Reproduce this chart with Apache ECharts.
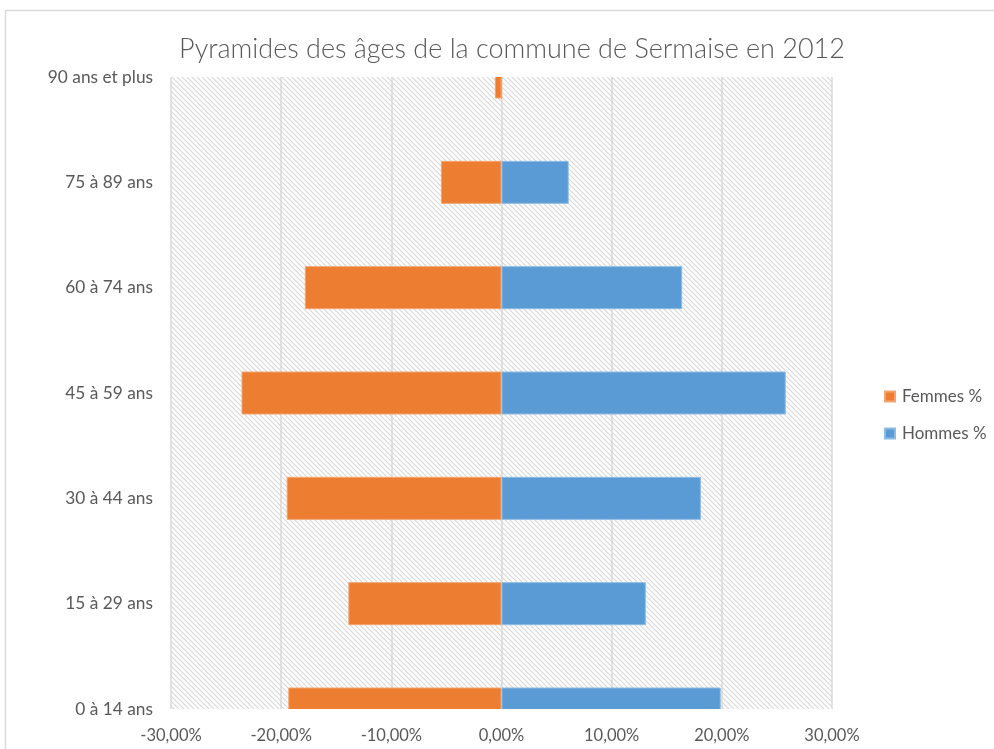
<!DOCTYPE html>
<html>
<head>
<meta charset="utf-8">
<script src="https://cdn.jsdelivr.net/npm/echarts@6/dist/echarts.min.js"></script>
<style>
  body { margin: 0; background: #fff; }
  #bar { width: 994px; height: 749px; }
</style>
</head>
<body>
<div id="bar"></div>
<script>
var categories = ['0 à 14 ans', '15 à 29 ans', '30 à 44 ans', '45 à 59 ans', '60 à 74 ans', '75 à 89 ans', '90 ans et plus'];
var femmes = [-19.35, -13.9, -19.5, -23.6, -17.85, -5.5, -0.6];
var hommes = [19.9, 13.1, 18.1, 25.8, 16.4, 6.1, 0];
var xTicks = [-30, -20, -10, 0, 10, 20, 30];

// hachures du fond
function hatch() {
    var s = 5;
    var c = document.createElement('canvas');
    c.width = s;
    c.height = s;
    var ctx = c.getContext('2d');
    ctx.fillStyle = '#ffffff';
    ctx.fillRect(0, 0, s, s);
    ctx.strokeStyle = '#d6d6d6';
    ctx.lineWidth = 1.1;
    ctx.beginPath();
    ctx.moveTo(-1, -1); ctx.lineTo(s + 1, s + 1);
    ctx.moveTo(-s - 1, -1); ctx.lineTo(1, s + 1);
    ctx.moveTo(s - 1, -1); ctx.lineTo(2 * s + 1, s + 1);
    ctx.stroke();
    return c;
}

function pct(v) {
    return v.toFixed(2).replace('.', ',') + '%';
}

var chart = echarts.init(document.getElementById('bar'), null, {renderer: 'canvas'});
var font = 'Lato, "Noto Sans", sans-serif';
var gLeft = 171, gRight = 162, gTop = 77, gBottom = 40;

chart.setOption({
    animation: false,
    textStyle: {fontFamily: font},
    title: {
        text: 'Pyramides des âges de la commune de Sermaise en 2012',
        left: 507,
        textAlign: 'center',
        top: 31,
        z: 12,
        textStyle: {fontFamily: font, fontSize: 27, fontWeight: 300, color: '#595959'}
    },
    graphic: [{
        type: 'rect',
        shape: {x: 5.5, y: 10.5, width: 1000, height: 800},
        style: {fill: null, stroke: '#d9d9d9', lineWidth: 1.5},
        silent: true
    }, {
        // masque les demi-barres qui dépassent la zone du graphique
        type: 'rect',
        z: 5,
        shape: {x: gLeft - 2, y: gTop - 30, width: 994 - gLeft - gRight + 4, height: 30},
        style: {fill: '#fff'},
        silent: true
    }, {
        type: 'rect',
        z: 5,
        shape: {x: gLeft - 2, y: 749 - gBottom, width: 994 - gLeft - gRight + 4, height: 30},
        style: {fill: '#fff'},
        silent: true
    }],
    legend: {
        orient: 'vertical',
        left: 879,
        top: 383,
        itemWidth: 10,
        itemHeight: 10,
        itemGap: 20,
        icon: 'rect',
        z: 12,
        data: ['Femmes %', 'Hommes %'],
        textStyle: {fontSize: 17, color: '#595959', fontFamily: font, padding: [0, 0, 0, 2]}
    },
    grid: {
        left: gLeft,
        right: gRight,
        top: gTop,
        bottom: gBottom,
        show: true,
        borderWidth: 0,
        backgroundColor: {image: hatch(), repeat: 'repeat'}
    },
    xAxis: [{
        // lignes verticales, sous les barres
        type: 'value',
        min: xTicks[0],
        max: xTicks[xTicks.length - 1],
        interval: 10,
        position: 'bottom',
        axisLine: {show: false},
        axisTick: {show: false},
        axisLabel: {show: false},
        splitLine: {lineStyle: {color: '#d9d9d9', width: 1.5}}
    }, {
        // étiquettes, au-dessus du masque
        type: 'value',
        min: xTicks[0],
        max: xTicks[xTicks.length - 1],
        interval: 10,
        position: 'bottom',
        z: 10,
        axisLine: {show: false},
        axisTick: {show: false},
        splitLine: {show: false},
        axisLabel: {
            formatter: pct,
            fontSize: 16.5,
            color: '#595959',
            margin: 18
        }
    }],
    yAxis: {
        type: 'category',
        data: categories,
        boundaryGap: false,
        axisLine: {show: false},
        axisTick: {show: false},
        axisLabel: {fontSize: 17.3, color: '#595959', margin: 18}
    },
    series: [{
        name: 'Femmes %',
        type: 'bar',
        data: femmes,
        barWidth: 43,
        barGap: '-100%',
        itemStyle: {color: '#ED7D31', borderColor: '#f3a46f', borderWidth: 1}
    }, {
        name: 'Hommes %',
        type: 'bar',
        data: hommes,
        barWidth: 43,
        itemStyle: {color: '#5B9BD5', borderColor: '#8dbbe3', borderWidth: 1}
    }]
});
</script>
</body>
</html>
